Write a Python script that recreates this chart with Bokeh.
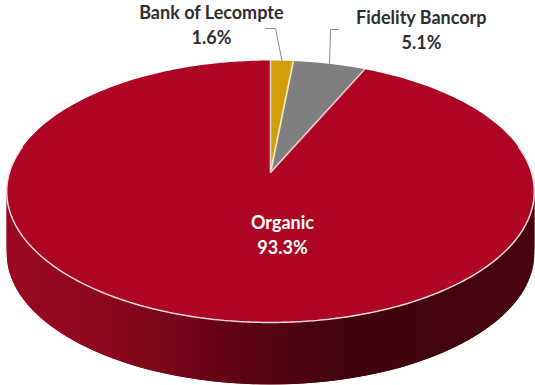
import numpy as np
from bokeh.embed import file_html
from bokeh.models import Range1d
from bokeh.plotting import figure
from bokeh.resources import INLINE

# Deposit share by source, clockwise from twelve o'clock
names = ["Bank of Lecompte", "Fidelity Bancorp", "Organic"]
shares = [1.6, 5.1, 93.3]
labels = ["1.6%", "5.1%", "93.3%"]
slice_colors = ["#D29E0C", "#7F7F7F", "#AD0523"]

# Perspective disc: apex position, semi-axes and foreshortening
CX, CY = 270.0, 172.0
A, B, K = 261.0, 128.2, 0.145
DEPTH = 62.0

# Shading of the disc's rim from left to right
rim_stops_x = [5, 100, 200, 270, 350, 535]
rim_stops_rgb = [(156, 8, 34), (142, 9, 32), (110, 5, 22), (84, 4, 16), (64, 4, 11), (72, 5, 16)]


def project(theta):
    """Map a clockwise angle from the top of the unit circle to page pixels."""
    u, v = np.sin(theta), np.cos(theta)
    d = 1 + K * v
    return CX + A * u / d, CY - B * v / d


p = figure(width=535, height=385, output_backend="svg", toolbar_location=None,
           x_range=Range1d(0, 535), y_range=Range1d(385, 0),
           min_border=0, outline_line_color=None, background_fill_color="white",
           border_fill_color="white")
p.axis.visible = False
p.grid.visible = False

# Rim: overlapping vertical strips along the near half of the disc, painted
# from the right so each strip covers the seam of the one before it
rim_t = np.radians(np.linspace(90 - 12, 270 + 12, 121))
rim_x, rim_y = project(rim_t)
xs, ys, cols = [], [], []
for i in range(len(rim_t) - 2):
    xs.append([rim_x[i], rim_x[i + 2], rim_x[i + 2], rim_x[i]])
    ys.append([rim_y[i], rim_y[i + 2], rim_y[i + 2] + DEPTH, rim_y[i] + DEPTH])
    mid = (rim_x[i] + rim_x[i + 1]) / 2
    rgb = [int(np.interp(mid, rim_stops_x, [s[c] for s in rim_stops_rgb])) for c in range(3)]
    cols.append("#%02x%02x%02x" % tuple(rgb))
p.patches(xs, ys, fill_color=cols, line_color=None)

# Top face slices, built from the shares
edges = np.cumsum([0] + shares) / 100 * 2 * np.pi
for i in [2, 0, 1]:
    t = np.linspace(edges[i], edges[i + 1], 300)
    x, y = project(t)
    p.patch(np.r_[CX, x, CX], np.r_[CY, y, CY], fill_color=slice_colors[i], line_color=None)

# Pale separators between slices
for e, col in [(edges[0], "#F3DDC0"), (edges[1], "#F2EDC8"), (edges[2], "#EFCDD2")]:
    x, y = project(np.array([e]))
    p.line([CX, x[0]], [CY, y[0]], line_color=col, line_width=1.6)

# Pale highlight on the near edge of the top face
edge_t = np.radians(np.linspace(90 - 12, 270 + 12, 360))
ex, ey = project(edge_t)
p.line(ex, ey, line_color="#F6DFE0", line_width=1.5)

# Leader lines from the two small slices
mids = (edges[:-1] + edges[1:]) / 2
lx, ly = project(mids)
p.line([265, 275, lx[0]], [28, 28, ly[0]], line_color="#8C8C8C", line_width=1)
p.line([338, 330, lx[1]], [29, 29, ly[1]], line_color="#8C8C8C", line_width=1)

# Labels: name above share
font = "Lato"
dark = "#2E2E2E"
label_pos = [(211, 11, dark), (421, 16, dark), (282, 221, "white")]
for name, share, (tx, ty, col) in zip(names, labels, label_pos):
    p.text([tx], [ty], text=[name], text_align="center", text_baseline="middle",
           text_font={"value": font}, text_font_style="bold", text_font_size="18px", text_color=col)
    p.text([tx], [ty + 25], text=[share], text_align="center", text_baseline="middle",
           text_font={"value": font}, text_font_style="bold", text_font_size="18px", text_color=col)

open("out.html", "w").write(file_html(p, INLINE))
